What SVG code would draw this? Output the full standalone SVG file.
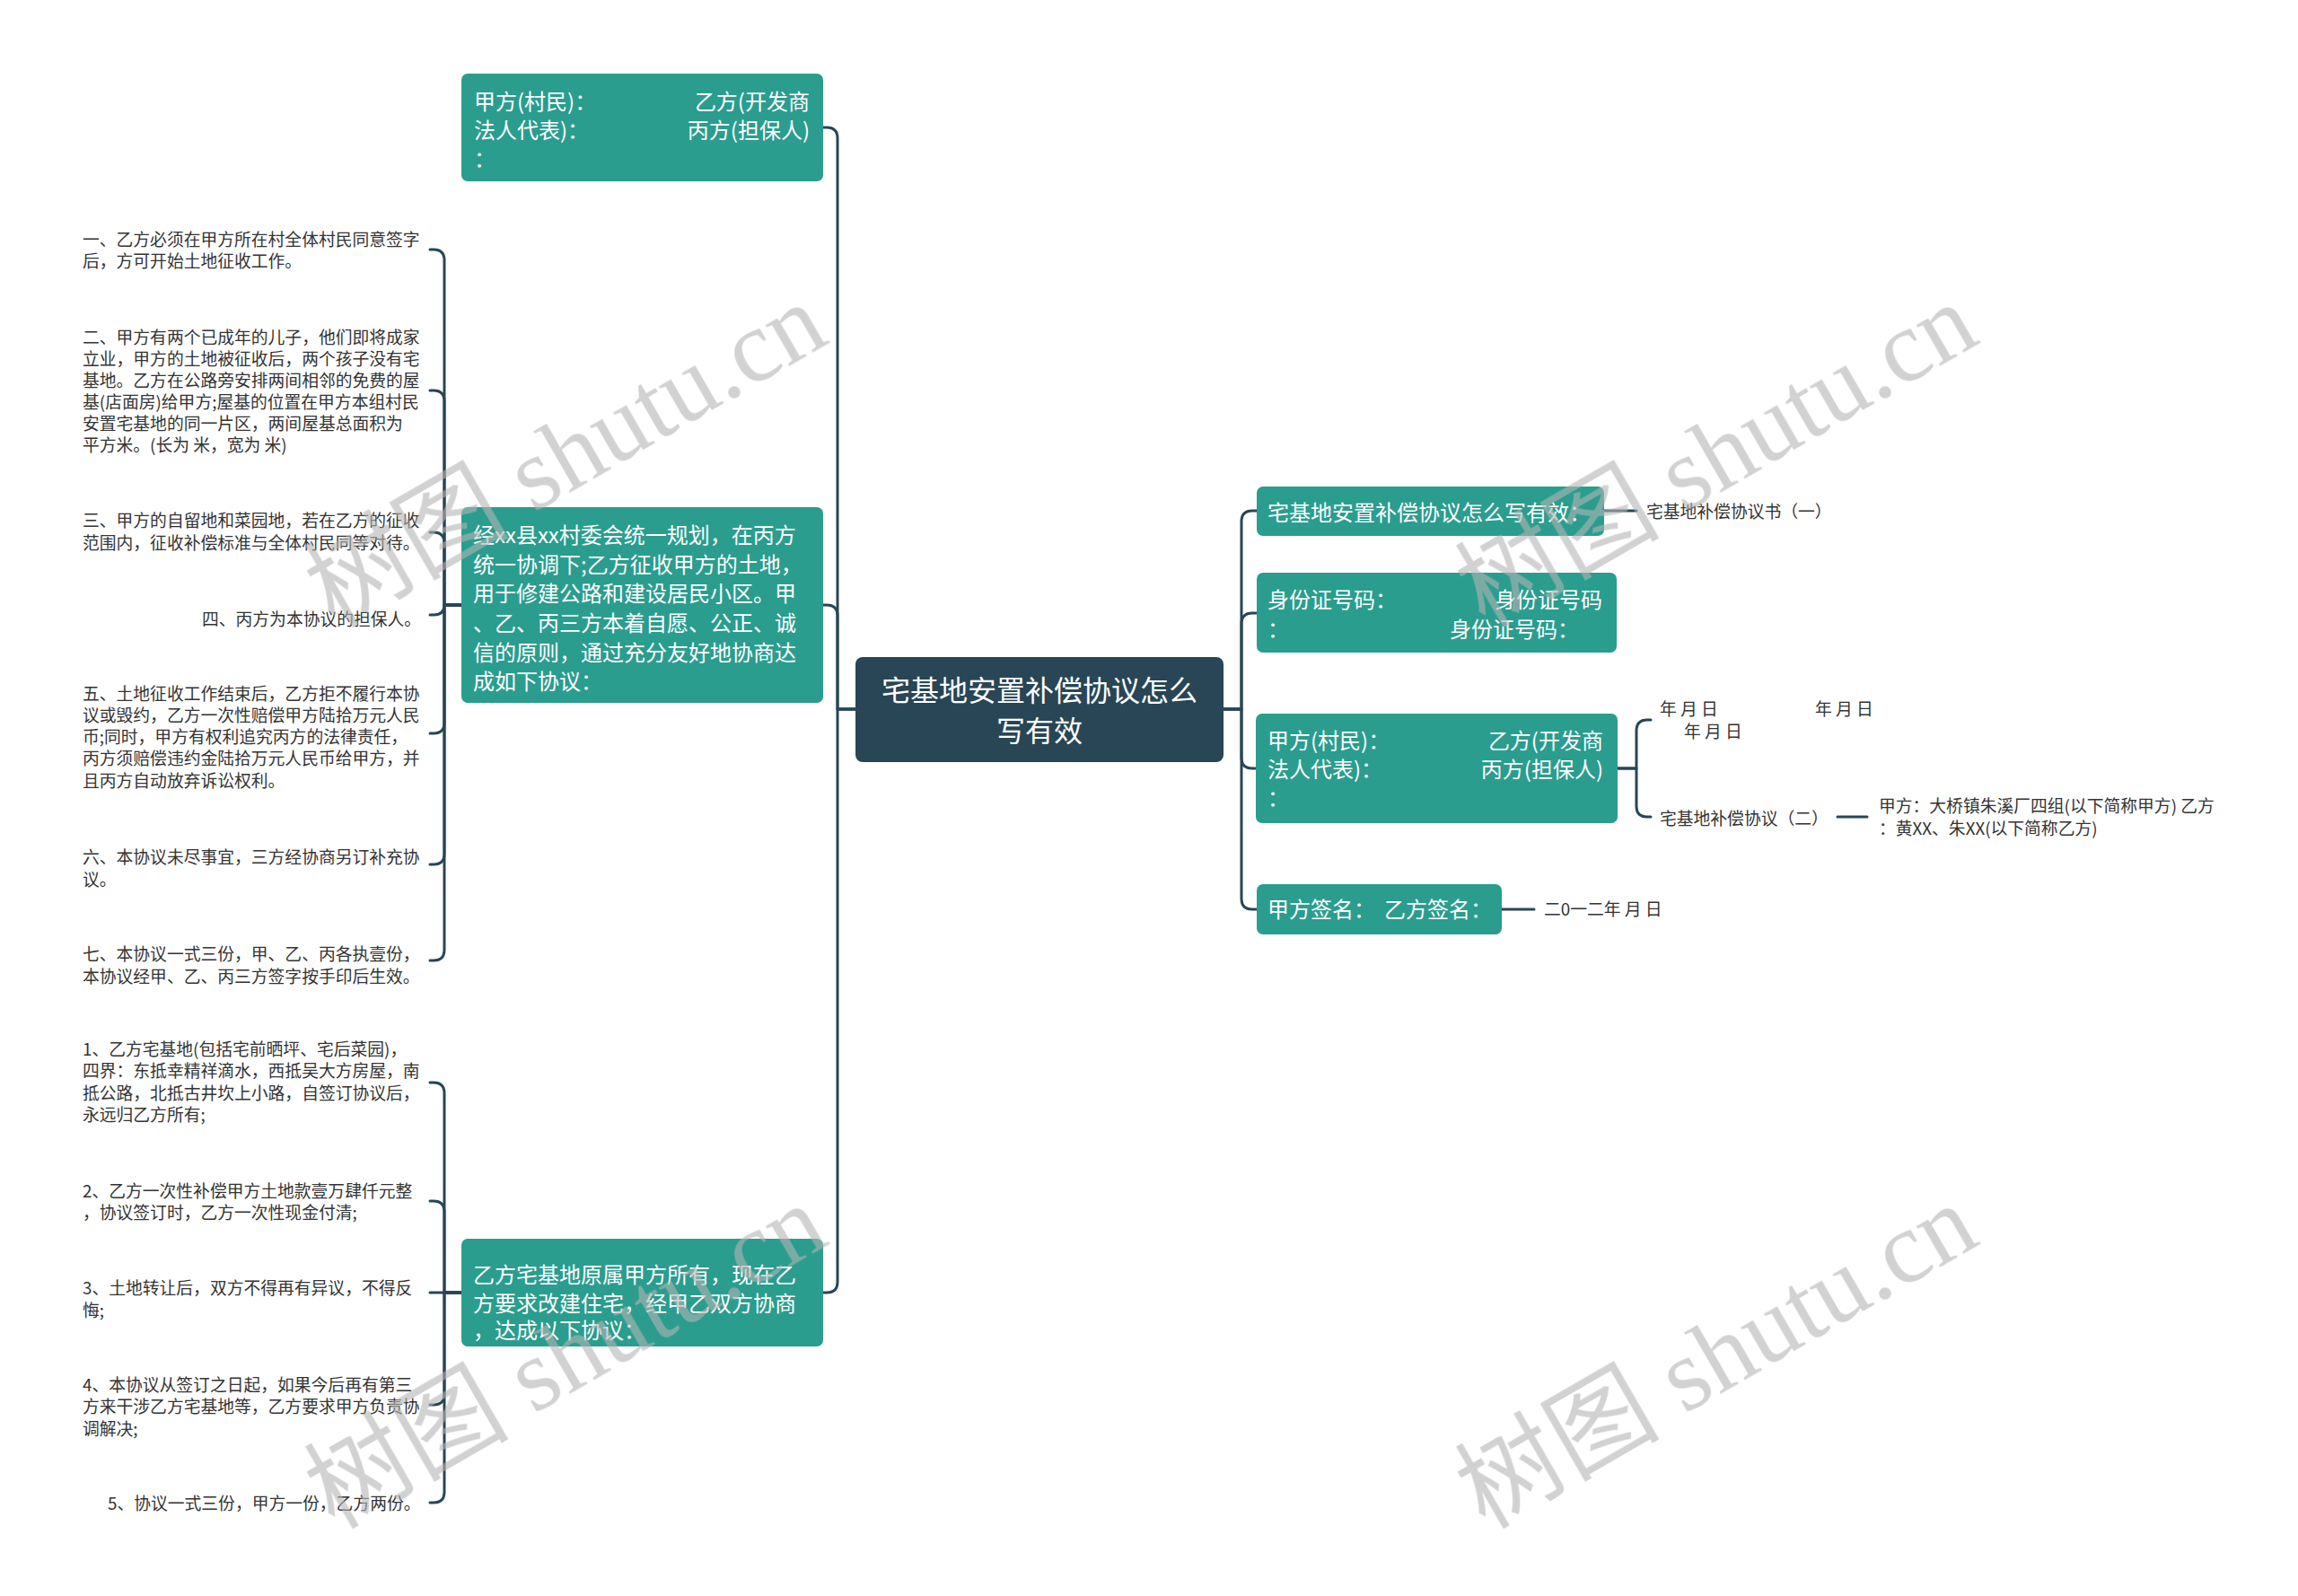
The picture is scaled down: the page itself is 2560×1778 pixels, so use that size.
<svg xmlns="http://www.w3.org/2000/svg" width="2560" height="1778" viewBox="0 0 2560 1778">
<style>
.bg{fill:#ffffff}
.node rect{fill:#2a9d8f}
#root rect{fill:#284655}
.nt{font-family:"Noto Sans CJK SC","Liberation Sans",sans-serif;font-size:24px;fill:#ffffff}
.rt{font-family:"Noto Sans CJK SC","Liberation Sans",sans-serif;font-size:32px;fill:#ffffff;text-anchor:middle}
.ct{font-family:"Noto Sans CJK SC","Liberation Sans",sans-serif;font-size:18.8px;fill:#333333}
.end{text-anchor:end}
#connectors path{fill:none;stroke:#284655;stroke-width:3;stroke-linecap:round;stroke-linejoin:round}
.wm{font-size:114px;fill:#b4b4b4;opacity:0.6}
.wmc{font-family:"Noto Sans CJK SC",sans-serif}
.wml{font-family:"Liberation Serif",serif}
</style>
<rect class="bg" x="0" y="0" width="2560" height="1778"/>

<g id="connectors">
  <path d="M953,790 H933 V154 Q933,142 921,142 H917"/>
  <path d="M953,790 H933 V686 Q933,674 921,674 H917"/>
  <path d="M953,790 H933 V1428 Q933,1440 921,1440 H917"/>

  <path d="M514,674 H495 V290 Q495,278 483,278 H479"/>
  <path d="M514,674 H495 V447 Q495,435 483,435 H479"/>
  <path d="M514,674 H495 V605 Q495,593 483,593 H479"/>
  <path d="M514,674 H495 Q495,685 483,685 H479"/>
  <path d="M514,674 H495 V805 Q495,817 483,817 H479"/>
  <path d="M514,674 H495 V951 Q495,963 483,963 H479"/>
  <path d="M514,674 H495 V1058 Q495,1070 483,1070 H479"/>

  <path d="M514,1440 H495 V1218 Q495,1206 483,1206 H479"/>
  <path d="M514,1440 H495 V1350 Q495,1338 483,1338 H479"/>
  <path d="M514,1440 H479"/>
  <path d="M514,1440 H495 V1553 Q495,1565 483,1565 H479"/>
  <path d="M514,1440 H495 V1662 Q495,1674 483,1674 H479"/>

  <path d="M1363,790 H1383 V581 Q1383,569 1395,569 H1400"/>
  <path d="M1363,790 H1383 V695 Q1383,683 1395,683 H1400"/>
  <path d="M1363,790 H1383 V844 Q1383,856 1395,856 H1400"/>
  <path d="M1363,790 H1383 V1001 Q1383,1013 1395,1013 H1400"/>

  <path d="M1787,569 H1823"/>
  <path d="M1802,856 H1823 V814 Q1823,802 1835,802 H1839"/>
  <path d="M1802,856 H1823 V898 Q1823,910 1835,910 H1839"/>
  <path d="M2047,910 H2080"/>
  <path d="M1673,1013 H1709"/>
</g>

<g id="root">
  <rect x="953" y="732" width="410" height="117" rx="8"/>
  <text class="rt"><tspan x="1158" y="781">宅基地安置补偿协议怎么</tspan><tspan x="1158" y="826">写有效</tspan></text>
</g>

<g id="node-l1" class="node">
  <rect x="514" y="82" width="403" height="120" rx="7"/>
  <text class="nt" x="528" y="122">甲方(村民)：</text>
  <text class="nt end" x="902" y="122">乙方(开发商</text>
  <text class="nt" x="528" y="154">法人代表)：</text>
  <text class="nt end" x="902" y="154">丙方(担保人)</text>
  <text class="nt" x="528" y="186">：</text>
</g>

<g id="node-l2" class="node">
  <rect x="514" y="565" width="403" height="218" rx="7"/>
  <text class="nt">
    <tspan x="527" y="605">经xx县xx村委会统一规划，在丙方</tspan>
    <tspan x="527" y="638">统一协调下;乙方征收甲方的土地，</tspan>
    <tspan x="527" y="670">用于修建公路和建设居民小区。甲</tspan>
    <tspan x="527" y="703">、乙、丙三方本着自愿、公正、诚</tspan>
    <tspan x="527" y="736">信的原则，通过充分友好地协商达</tspan>
    <tspan x="527" y="768">成如下协议：</tspan>
  </text>
</g>

<g id="node-l3" class="node">
  <rect x="514" y="1380" width="403" height="120" rx="7"/>
  <text class="nt">
    <tspan x="527" y="1429">乙方宅基地原属甲方所有，现在乙</tspan>
    <tspan x="527" y="1461">方要求改建住宅，经甲乙双方协商</tspan>
    <tspan x="527" y="1491">，达成以下协议：</tspan>
  </text>
</g>

<g id="leaf-a1"><text class="ct"><tspan x="92" y="274">一、乙方必须在甲方所在村全体村民同意签字</tspan><tspan x="92" y="298">后，方可开始土地征收工作。</tspan></text></g>
<g id="leaf-a2"><text class="ct">
  <tspan x="92" y="383">二、甲方有两个已成年的儿子，他们即将成家</tspan>
  <tspan x="92" y="407">立业，甲方的土地被征收后，两个孩子没有宅</tspan>
  <tspan x="92" y="431">基地。乙方在公路旁安排两间相邻的免费的屋</tspan>
  <tspan x="92" y="455">基(店面房)给甲方;屋基的位置在甲方本组村民</tspan>
  <tspan x="92" y="479">安置宅基地的同一片区，两间屋基总面积为</tspan>
  <tspan x="92" y="503">平方米。(长为 米，宽为 米)</tspan>
</text></g>
<g id="leaf-a3"><text class="ct"><tspan x="92" y="587">三、甲方的自留地和菜园地，若在乙方的征收</tspan><tspan x="92" y="612">范围内，征收补偿标准与全体村民同等对待。</tspan></text></g>
<g id="leaf-a4"><text class="ct" x="225" y="697">四、丙方为本协议的担保人。</text></g>
<g id="leaf-a5"><text class="ct">
  <tspan x="92" y="780">五、土地征收工作结束后，乙方拒不履行本协</tspan>
  <tspan x="92" y="804">议或毁约，乙方一次性赔偿甲方陆拾万元人民</tspan>
  <tspan x="92" y="828">币;同时，甲方有权利追究丙方的法律责任，</tspan>
  <tspan x="92" y="852">丙方须赔偿违约金陆拾万元人民币给甲方，并</tspan>
  <tspan x="92" y="877">且丙方自动放弃诉讼权利。</tspan>
</text></g>
<g id="leaf-a6"><text class="ct"><tspan x="92" y="962">六、本协议未尽事宜，三方经协商另订补充协</tspan><tspan x="92" y="987">议。</tspan></text></g>
<g id="leaf-a7"><text class="ct"><tspan x="92" y="1070">七、本协议一式三份，甲、乙、丙各执壹份，</tspan><tspan x="92" y="1095">本协议经甲、乙、丙三方签字按手印后生效。</tspan></text></g>

<g id="leaf-b1"><text class="ct">
  <tspan x="92" y="1176">1、乙方宅基地(包括宅前晒坪、宅后菜园)，</tspan>
  <tspan x="92" y="1200">四界：东抵幸精祥滴水，西抵吴大方房屋，南</tspan>
  <tspan x="92" y="1225">抵公路，北抵古井坎上小路，自签订协议后，</tspan>
  <tspan x="92" y="1249">永远归乙方所有;</tspan>
</text></g>
<g id="leaf-b2"><text class="ct"><tspan x="92" y="1334">2、乙方一次性补偿甲方土地款壹万肆仟元整</tspan><tspan x="92" y="1358">，协议签订时，乙方一次性现金付清;</tspan></text></g>
<g id="leaf-b3"><text class="ct"><tspan x="92" y="1442">3、土地转让后，双方不得再有异议，不得反</tspan><tspan x="92" y="1467">悔;</tspan></text></g>
<g id="leaf-b4"><text class="ct">
  <tspan x="92" y="1550">4、本协议从签订之日起，如果今后再有第三</tspan>
  <tspan x="92" y="1574">方来干涉乙方宅基地等，乙方要求甲方负责协</tspan>
  <tspan x="92" y="1599">调解决;</tspan>
</text></g>
<g id="leaf-b5"><text class="ct" x="120" y="1682">5、协议一式三份，甲方一份，乙方两份。</text></g>

<g id="node-r1" class="node">
  <rect x="1400" y="542" width="387" height="55" rx="7"/>
  <text class="nt" x="1412" y="580">宅基地安置补偿协议怎么写有效：</text>
</g>
<g id="node-r2" class="node">
  <rect x="1400" y="638" width="401" height="89" rx="7"/>
  <text class="nt" x="1412" y="677">身份证号码：</text>
  <text class="nt end" x="1785" y="677">身份证号码</text>
  <text class="nt" x="1412" y="710">：</text>
  <text class="nt" x="1615" y="710">身份证号码：</text>
</g>
<g id="node-r3" class="node">
  <rect x="1399" y="795" width="403" height="122" rx="7"/>
  <text class="nt" x="1412" y="834">甲方(村民)：</text>
  <text class="nt end" x="1786" y="834">乙方(开发商</text>
  <text class="nt" x="1412" y="866">法人代表)：</text>
  <text class="nt end" x="1786" y="866">丙方(担保人)</text>
  <text class="nt" x="1412" y="898">：</text>
</g>
<g id="node-r4" class="node">
  <rect x="1400" y="985" width="273" height="56" rx="7"/>
  <text class="nt" y="1022"><tspan x="1412">甲方签名：</tspan><tspan x="1542">乙方签名：</tspan></text>
</g>

<g id="leaf-r1"><text class="ct" x="1834" y="577">宅基地补偿协议书（一）</text></g>
<g id="leaf-r3a"><text class="ct" xml:space="preserve"><tspan x="1849" y="797">年 月 日</tspan><tspan x="2022" y="797">年 月 日</tspan><tspan x="1876" y="822">年 月 日</tspan></text></g>
<g id="leaf-r3b"><text class="ct" x="1849" y="919">宅基地补偿协议（二）</text></g>
<g id="leaf-r3b1"><text class="ct"><tspan x="2093" y="905">甲方：大桥镇朱溪厂四组(以下简称甲方) 乙方</tspan><tspan x="2093" y="930">：黄XX、朱XX(以下简称乙方)</tspan></text></g>
<g id="leaf-r4"><text class="ct" x="1720" y="1020">二0一二年 月 日</text></g>

<g id="watermarks" class="wm">
  <text transform="translate(372,700) rotate(-30)"><tspan class="wmc">树图</tspan><tspan class="wml"> shutu.cn</tspan></text>
  <text transform="translate(1654,700) rotate(-30)"><tspan class="wmc">树图</tspan><tspan class="wml"> shutu.cn</tspan></text>
  <text transform="translate(372,1704) rotate(-30)"><tspan class="wmc">树图</tspan><tspan class="wml"> shutu.cn</tspan></text>
  <text transform="translate(1654,1704) rotate(-30)"><tspan class="wmc">树图</tspan><tspan class="wml"> shutu.cn</tspan></text>
</g>
</svg>
